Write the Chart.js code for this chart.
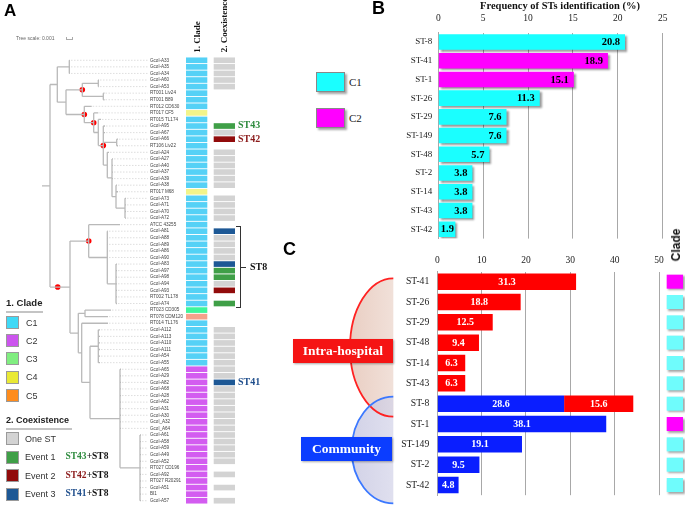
<!DOCTYPE html>
<html><head><meta charset="utf-8">
<script src="https://cdn.jsdelivr.net/npm/chart.js@4"></script>
<style>
html,body{margin:0;padding:0;background:#fff;}
#wrap{position:relative;width:685px;height:509px;overflow:hidden;font-family:"Liberation Sans",Arial,sans-serif;}
canvas{position:absolute;}
.t{position:absolute;white-space:nowrap;line-height:1;transform:translateY(-50%);}
.sr{font-family:"Liberation Serif","Times New Roman",serif;font-weight:bold;}
.rot{position:absolute;white-space:nowrap;line-height:1;transform:translate(-50%,-50%) rotate(-90deg);}
.sq{position:absolute;width:13px;height:13px;box-sizing:border-box;border:1px solid #9a9a9a;}
.box{position:absolute;color:#fff;font-family:"Liberation Serif",serif;font-weight:bold;font-size:13.5px;display:flex;align-items:center;justify-content:center;box-shadow:1px 1px 2px rgba(0,0,0,.35);}
</style></head><body><div id="wrap">
<canvas id="cTree" style="left:0;top:0" width="150" height="509"></canvas>
<canvas id="cHeat" style="left:150px;top:0" width="90" height="509"></canvas>
<canvas id="cB" style="left:370px;top:0" width="315" height="250"></canvas>
<canvas id="cC" style="left:280px;top:245px" width="405" height="264"></canvas>

<div class="t" style="left:4px;top:10px;font-weight:bold;font-size:17px;">A</div>
<div class="t" style="left:16px;top:38px;font-size:5px;color:#666;">Tree scale: 0.001</div>
<div style="position:absolute;left:66px;top:37px;width:5px;height:2px;border:1px solid #aaa;border-top:none;"></div>
<div class="rot sr" style="left:197px;top:37px;font-size:9px;color:#111;">1. Clade</div>
<div class="rot sr" style="left:224px;top:25px;font-size:9px;color:#111;">2. Coexistence</div>
<div class="t sr" style="left:238px;top:125px;font-size:10px;color:#2e8b3e;">ST43</div>
<div class="t sr" style="left:238px;top:139px;font-size:10px;color:#8b1a1a;">ST42</div>
<div style="position:absolute;left:236px;top:226px;width:4px;height:80px;border:1px solid #333;border-left:none;"></div>
<div style="position:absolute;left:241px;top:267px;width:5px;height:0;border-top:1px solid #333;"></div>
<div class="t sr" style="left:250px;top:267px;font-size:10px;color:#111;">ST8</div>
<div class="t sr" style="left:238px;top:382px;font-size:10px;color:#1f4e8c;">ST41</div>

<div class="t" style="left:6px;top:303px;font-weight:bold;font-size:9.5px;color:#222;">1. Clade</div>
<div style="position:absolute;left:6px;top:311px;width:37px;height:1.5px;background:#c4c4c4;"></div>
<div class="sq" style="left:6px;top:316px;background:#3fd9f6;"></div><div class="t" style="left:26px;top:323px;font-size:9px;color:#333;">C1</div>
<div class="sq" style="left:6px;top:334px;background:#cc55ee;"></div><div class="t" style="left:26px;top:341px;font-size:9px;color:#333;">C2</div>
<div class="sq" style="left:6px;top:352px;background:#80ee80;"></div><div class="t" style="left:26px;top:359px;font-size:9px;color:#333;">C3</div>
<div class="sq" style="left:6px;top:371px;background:#e9e935;"></div><div class="t" style="left:26px;top:377px;font-size:9px;color:#333;">C4</div>
<div class="sq" style="left:6px;top:389px;background:#ff8c1c;"></div><div class="t" style="left:26px;top:396px;font-size:9px;color:#333;">C5</div>
<div class="t" style="left:6px;top:420px;font-weight:bold;font-size:9px;color:#222;">2. Coexistence</div>
<div style="position:absolute;left:6px;top:428px;width:66px;height:1.5px;background:#c4c4c4;"></div>
<div class="sq" style="left:6px;top:432px;background:#d3d3d3;"></div><div class="t" style="left:25px;top:439px;font-size:9px;color:#333;">One ST</div>
<div class="sq" style="left:6px;top:451px;background:#3f9f47;"></div><div class="t" style="left:25px;top:457px;font-size:9px;color:#333;">Event 1</div>
<div class="t sr" style="left:65.5px;top:457px;font-size:9.5px;"><span style="color:#2e8b3e">ST43</span><span style="color:#111">+ST8</span></div>
<div class="sq" style="left:6px;top:469px;background:#910b0b;"></div><div class="t" style="left:25px;top:476px;font-size:9px;color:#333;">Event 2</div>
<div class="t sr" style="left:65.5px;top:476px;font-size:9.5px;"><span style="color:#8b1a1a">ST42</span><span style="color:#111">+ST8</span></div>
<div class="sq" style="left:6px;top:488px;background:#1d5895;"></div><div class="t" style="left:25px;top:494px;font-size:9px;color:#333;">Event 3</div>
<div class="t sr" style="left:65.5px;top:494px;font-size:9.5px;"><span style="color:#1f4e8c">ST41</span><span style="color:#111">+ST8</span></div>

<div class="t" style="left:372px;top:8px;font-weight:bold;font-size:18px;">B</div>
<div class="t sr" style="left:560px;top:6px;font-size:10.5px;color:#111;transform:translate(-50%,-50%);">Frequency of STs identification (%)</div>
<div style="position:absolute;left:316px;top:72px;width:29px;height:20px;box-sizing:border-box;border:1px solid #888;background:#1affff;box-shadow:2px 2px 2px rgba(0,0,0,.35);"></div>
<div class="t" style="left:349px;top:82px;font-family:'Liberation Serif',serif;font-size:11px;color:#222;">C1</div>
<div style="position:absolute;left:316px;top:108px;width:29px;height:20px;box-sizing:border-box;border:1px solid #888;background:#ff00ff;box-shadow:2px 2px 2px rgba(0,0,0,.35);"></div>
<div class="t" style="left:349px;top:118px;font-family:'Liberation Serif',serif;font-size:11px;color:#222;">C2</div>

<div class="t" style="left:283px;top:249px;font-weight:bold;font-size:18px;">C</div>
<div class="rot" style="left:676px;top:245px;font-weight:bold;font-size:12px;color:#111;">Clade</div>
<div class="box" style="left:293px;top:339px;width:100px;height:24px;background:#f51414;">Intra-hospital</div>
<div class="box" style="left:301px;top:437px;width:91px;height:24px;background:#0b3dff;">Community</div>
</div>
<script>
// ---------- Panel A data ----------
const tipLabels = ['Gcol-A33','Gcol-A35','Gcol-A34','Gcol-A60','Gcol-A53','RT001 Liv24','RT001 B89','RT012 CD630','RT017 CF5','RT015 TL174','Gcol-A95','Gcol-A67','Gcol-A66','RT106 Liv22','Gcol-A24','Gcol-A27','Gcol-A40','Gcol-A37','Gcol-A39','Gcol-A38','RT017 M68','Gcol-A73','Gcol-A71','Gcol-A70','Gcol-A72','ATCC 43255','Gcol-A81','Gcol-A88','Gcol-A89','Gcol-A86','Gcol-A90','Gcol-A83','Gcol-A97','Gcol-A98','Gcol-A94','Gcol-A93','RT002 TL178','Gcol-A74','RT023 CD305','RT078 CDM120','RT014 TL176','Gcol-A112','Gcol-A113','Gcol-A110','Gcol-A111','Gcol-A54','Gcol-A55','Gcol-A65','Gcol-A29','Gcol-A82','Gcol-A68','Gcol-A28','Gcol-A62','Gcol-A31','Gcol-A30','Gcol_A32','Gcol_A64','Gcol-A61','Gcol-A58','Gcol-A59','Gcol-A49','Gcol-A52','RT027 CD196','Gcol-A92','RT027 R20291','Gcol-A51','BI1','Gcol-A57'];
const tipClade = ['C1','C1','C1','C1','C1','C1','C1','C1','C4','C1','C1','C1','C1','C1','C1','C1','C1','C1','C1','C1','C4','C1','C1','C1','C1','C1','C1','C1','C1','C1','C1','C1','C1','C1','C1','C1','C1','C1','C3','C5','C1','C1','C1','C1','C1','C1','C1','C2','C2','C2','C2','C2','C2','C2','C2','C2','C2','C2','C2','C2','C2','C2','C2','C2','C2','C2','C2','C2'];
const tipCoex = ['O','O','O','O','O','','','','','','E1','O','E2','','O','O','O','O','O','O','','O','O','O','O','','E3','O','O','O','O','E3','E1','E1','O','E2','','E1','','','','O','O','O','O','O','O','O','O','E3','O','O','O','O','O','O','O','O','O','O','O','O','','O','','O','','O'];
const cladeCellColor = {C1:'#55d1f6',C2:'#d35cf0',C3:'#3df59b',C4:'#f2f48a',C5:'#f5a18a'};
const coexColor = {O:'#d3d3d3',E1:'#3f9f47',E2:'#910b0b',E3:'#1d5895'};
// tree topology: node {x: branch position, c: children}, leaf [row, tipX]
const treeTopology = {x:50, root:42, c:[
 {x:57.3, c:[
   {x:69.3, c:[[0,70],[1,70],[2,70]]},
   {x:66, c:[
     {x:82.3, dot:1, c:[{x:98.3,c:[[3,99],[4,99]]},{x:103.3,c:[[5,104.5],[6,104.5]]}]},
     {x:84.3, dot:1, c:[[7,91.7], {x:93.7, dot:1, c:[[8,98.3], {x:98.3, c:[[9,101],
        {x:103.3, dot:1, c:[[10,105],[11,105],{x:116.7,c:[[12,118],[13,118]]},
          {x:107.3,c:[[14,109],{x:112,c:[[15,113],[16,113],[17,113],[18,113],
            {x:116,c:[[19,117],[20,118],{x:125,c:[[21,126],[22,126],[23,126],[24,126]]}]}]}]}]}]}]}]}
   ]}
 ]},
 {x:70, bd:57.7, c:[
   {x:88.7, dot:1, c:[[25,120], {x:107.3, c:[[26,108],[27,108],[28,108],[29,108],[30,108],
      {x:116,c:[[31,117],[32,117],[33,117],[34,117],[35,117],[36,117],[37,117]]}]}]},
   {x:78.3, c:[{x:85,c:[[38,111],[39,108]]},
      {x:81.7,c:[[40,108],{x:90,c:[{x:98.3,c:[[41,100],[42,100],[43,100],[44,100],[45,100],[46,100]]},
        {x:120,c:[[47,121],[48,121],[49,121],[50,121],[51,121],[52,121],[53,121],[54,121],[55,121],[56,121],
          {x:140,c:[[57,141],[58,141],[59,141],[60,141],[61,141],[62,141],[63,141],[64,141],[65,141],[66,141],[67,141]]}]}]}]}]}
 ]}
]};

// ---------- Panel B data ----------
const stB = ['ST-8','ST-41','ST-1','ST-26','ST-29','ST-149','ST-48','ST-2','ST-14','ST-43','ST-42'];
const freqB = [20.8,18.9,15.1,11.3,7.6,7.6,5.7,3.8,3.8,3.8,1.9];
const cladeB = ['C1','C2','C2','C1','C1','C1','C1','C1','C1','C1','C1'];
const ticksB = [0,5,10,15,20,25];

// ---------- Panel C data ----------
const stC = ['ST-41','ST-26','ST-29','ST-48','ST-14','ST-43','ST-8','ST-1','ST-149','ST-2','ST-42'];
const communityC = [null,null,null,null,null,null,28.6,38.1,19.1,9.5,4.8];
const hospitalC = [31.3,18.8,12.5,9.4,6.3,6.3,15.6,null,null,null,null];
const cladeC = ['C2','C1','C1','C1','C1','C1','C1','C2','C1','C1','C1'];
const ticksC = [0,10,20,30,40,50];

Chart.defaults.animation = false;
Chart.defaults.responsive = false;
Chart.defaults.devicePixelRatio = 1;
Chart.defaults.events = [];
Chart.defaults.plugins.legend.display = false;
Chart.defaults.plugins.tooltip.enabled = false;

// ---------- tree ----------
function layout(n){
  if (Array.isArray(n)) return n[0];
  n.c.forEach(layout);
  const ys = n.c.map(ch => Array.isArray(ch) ? ch[0] : ch.y);
  n.y = (ys[0] + ys[ys.length-1]) / 2;
  return n.y;
}
layout(treeTopology);
const segs = [], leaders = [], dots = [];
const gap = () => ({x:NaN, y:NaN});
function walk(n){
  const cy = ch => Array.isArray(ch) ? ch[0] : ch.y;
  const cx = ch => Array.isArray(ch) ? ch[1] : ch.x;
  const f = n.c[0], l = n.c[n.c.length-1];
  segs.push({x:n.x,y:cy(f)},{x:n.x,y:cy(l)},gap());
  n.c.forEach(ch => {
    segs.push({x:n.x,y:cy(ch)},{x:cx(ch),y:cy(ch)},gap());
    if (Array.isArray(ch)) leaders.push({x:ch[1]+1,y:ch[0]},{x:148,y:ch[0]},gap());
    else walk(ch);
  });
  if (n.dot) dots.push({x:n.x,y:n.y});
  if (n.bd) dots.push({x:n.bd,y:n.y});
}
walk(treeTopology);
segs.push({x:treeTopology.root,y:treeTopology.y},{x:treeTopology.x,y:treeTopology.y},gap());

new Chart(document.getElementById('cTree'), {
  type:'scatter',
  data:{datasets:[
    {data:leaders, showLine:true, spanGaps:false, borderColor:'#d6d6d6', borderWidth:0.8, borderDash:[1.5,1.5], pointRadius:0},
    {data:segs, showLine:true, spanGaps:false, borderColor:'#b9b9b9', borderWidth:1.3, pointRadius:0},
    {data:dots, showLine:false, pointRadius:2.8, pointBackgroundColor:'#ff0000', pointBorderWidth:0}
  ]},
  options:{layout:{autoPadding:false, padding:{top:57,bottom:5,left:0,right:0}},
    scales:{x:{type:'linear',min:0,max:150,display:false}, y:{type:'linear',min:-0.5,max:67.5,reverse:true,display:false}}}
});

// ---------- heatmap ----------
new Chart(document.getElementById('cHeat'), {
  type:'bar',
  data:{labels:tipLabels, datasets:[
    {data:tipClade.map(()=>[0,1]), backgroundColor:tipClade.map(c=>cladeCellColor[c]), grouped:false, barPercentage:0.86, categoryPercentage:1},
    {data:tipCoex.map(c=>c?[1.3,2.3]:null), backgroundColor:tipCoex.map(c=>coexColor[c]||'rgba(0,0,0,0)'), grouped:false, barPercentage:0.86, categoryPercentage:1}
  ]},
  options:{indexAxis:'y', layout:{autoPadding:false, padding:{top:57,bottom:5,left:0,right:5}},
    scales:{
      x:{type:'linear',min:0,max:2.3,display:false},
      y:{ticks:{autoSkip:false, crossAlign:'far', padding:0, color:'#444', font:{family:'Liberation Sans', size:4.6}},
         grid:{display:false, drawTicks:false}, border:{display:false}, afterFit:s=>{s.width=36;}}
    }}
});

// ---------- panel B ----------
const shadowPlugin = {
  id:'shadow',
  beforeDatasetsDraw(chart){ const c=chart.ctx; c.save(); c.shadowColor='rgba(0,0,0,0.4)'; c.shadowOffsetX=2; c.shadowOffsetY=2; c.shadowBlur=2; },
  afterDatasetsDraw(chart){ chart.ctx.restore(); }
};
const labelsB = {
  id:'labelsB',
  afterDatasetsDraw(chart){
    const c=chart.ctx; c.save();
    c.font='bold 10.5px "Liberation Serif"'; c.fillStyle='#000'; c.textAlign='right'; c.textBaseline='middle';
    chart.getDatasetMeta(0).data.forEach((b,i)=>{
      const txt=freqB[i].toFixed(1); const w=c.measureText(txt).width;
      const x=Math.max(b.x-5, b.base+w+2);
      c.fillText(txt, x, b.y+0.5);
    });
    c.restore();
  }
};
new Chart(document.getElementById('cB'), {
  type:'bar',
  data:{labels:stB, datasets:[{data:freqB, backgroundColor:cladeB.map(c=>c==='C1'?'#1affff':'#ff00ff'), barPercentage:0.83, categoryPercentage:1}]},
  options:{indexAxis:'y', layout:{autoPadding:false, padding:{left:0,right:22.3,top:0,bottom:10.6}},
    scales:{
      x:{position:'top', min:0, max:25, afterBuildTicks:s=>{s.ticks=ticksB.map(v=>({value:v}));},
         ticks:{padding:8, color:'#222', font:{family:'Liberation Serif', size:9.5}},
         grid:{color:'#a8a8a8', drawTicks:false}, border:{display:false}, afterFit:s=>{s.height=32.6;}},
      y:{ticks:{autoSkip:false, padding:6, color:'#222', font:{family:'Liberation Serif', size:9}},
         grid:{display:false, drawTicks:false}, border:{display:true, color:'#a8a8a8'}, afterFit:s=>{s.width=68.3;}}
    }},
  plugins:[shadowPlugin, labelsB]
});

// ---------- panel C ----------
const decoC = {
  id:'decoC',
  beforeDraw(chart){
    const c=chart.ctx; c.save();
    c.beginPath(); c.ellipse(113.3,102.5,43.3,69.2,0,Math.PI/2,Math.PI*1.5,false); c.closePath();
    const g1=c.createLinearGradient(70,0,113,0); g1.addColorStop(0,'rgba(226,190,175,0.75)'); g1.addColorStop(1,'rgba(236,214,204,0.75)');
    c.fillStyle=g1; c.fill();
    c.beginPath(); c.ellipse(113.3,205,41.6,53.3,0,Math.PI/2,Math.PI*1.5,false); c.closePath();
    const g2=c.createLinearGradient(70,0,113,0); g2.addColorStop(0,'rgba(190,190,220,0.7)'); g2.addColorStop(1,'rgba(210,210,232,0.7)');
    c.fillStyle=g2; c.fill();
    c.lineWidth=1.8;
    c.beginPath(); c.ellipse(113.3,102.5,43.3,69.2,0,Math.PI/2,Math.PI*1.5,false); c.strokeStyle='#ff2222'; c.stroke();
    c.beginPath(); c.ellipse(113.3,205,41.6,53.3,0,Math.PI/2,Math.PI*1.5,false); c.strokeStyle='#3b78ff'; c.stroke();
    c.restore();
  },
  afterDatasetsDraw(chart){
    const c=chart.ctx; c.save();
    c.font='bold 10px "Liberation Serif"'; c.fillStyle='#fff'; c.textAlign='center'; c.textBaseline='middle';
    [communityC, hospitalC].forEach((arr,di)=>{
      chart.getDatasetMeta(di).data.forEach((b,i)=>{ if(arr[i]!=null) c.fillText(arr[i].toFixed(1),(b.x+b.base)/2,b.y+0.5); });
    });
    c.restore();
    c.save();
    c.shadowColor='rgba(0,0,0,0.35)'; c.shadowOffsetX=1.5; c.shadowOffsetY=1.5; c.shadowBlur=2;
    const ys=chart.scales.y;
    cladeC.forEach((cl,i)=>{ const y=ys.getPixelForValue(i); c.fillStyle=cl==='C2'?'#ff00ff':'#6ffcfc'; c.fillRect(386.7,y-7,16.3,14); });
    c.restore();
  }
};
new Chart(document.getElementById('cC'), {
  type:'bar',
  data:{labels:stC, datasets:[
    {data:communityC, backgroundColor:'#0a1eff', barPercentage:0.81, categoryPercentage:1, stack:'s'},
    {data:hospitalC, backgroundColor:'#ff0000', barPercentage:0.81, categoryPercentage:1, stack:'s'}
  ]},
  options:{indexAxis:'y', layout:{autoPadding:false, padding:{left:0,right:26,top:0,bottom:7}},
    scales:{
      x:{position:'top', stacked:true, min:0, max:50, afterBuildTicks:s=>{s.ticks=ticksC.map(v=>({value:v}));},
         ticks:{padding:5.8, color:'#222', font:{family:'Liberation Serif', size:9.5}},
         grid:{color:'#a8a8a8', drawTicks:false}, border:{display:false}, afterFit:s=>{s.height=26.5;}},
      y:{stacked:true, ticks:{autoSkip:false, padding:8, color:'#222', font:{family:'Liberation Serif', size:9.7}},
         grid:{display:false, drawTicks:false}, border:{display:true, color:'#a8a8a8'}, afterFit:s=>{s.width=157.3;}}
    }},
  plugins:[decoC]
});
</script>
</body></html>
